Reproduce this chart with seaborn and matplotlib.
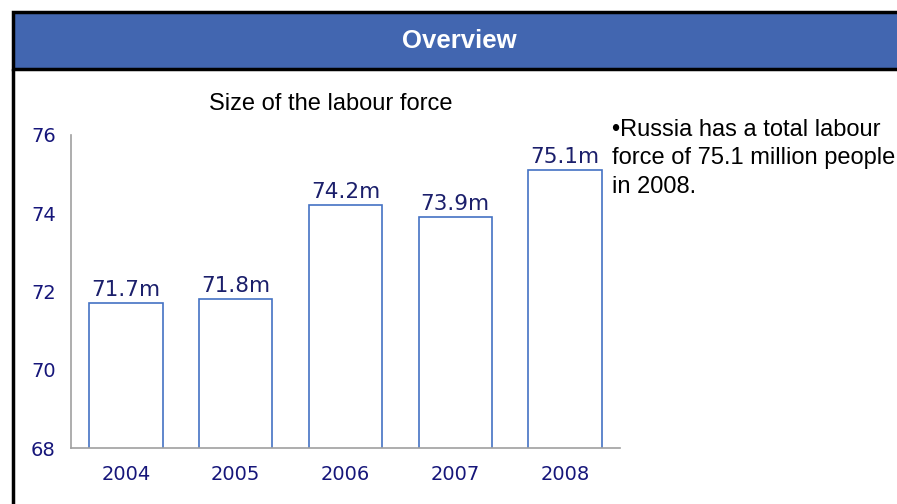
import matplotlib
matplotlib.use("Agg")
import matplotlib.pyplot as plt
from matplotlib.patches import Rectangle
from matplotlib.lines import Line2D
import seaborn as sns
import pandas as pd

years = ["2004", "2005", "2006", "2007", "2008"]
labour_force = [71.7, 71.8, 74.2, 73.9, 75.1]
bar_labels = ["71.7m", "71.8m", "74.2m", "73.9m", "75.1m"]
y_ticks = [68, 70, 72, 74, 76]

df = pd.DataFrame({"year": years, "force": labour_force})

sns.set_style("white")
plt.rcParams["font.family"] = ["DejaVu Sans"]

W, H = 897, 504
fig = plt.figure(figsize=(W / 100, H / 100), dpi=100)

# slide frame + header band
fig.patches.append(Rectangle((13 / W, 1 - 69 / H), 1.0, 57 / H, transform=fig.transFigure,
                             facecolor="#4266B0", edgecolor="black", linewidth=2.5, zorder=0))
fig.lines.append(Line2D([13 / W, 13 / W], [0, 1 - 69 / H], transform=fig.transFigure,
                        color="black", linewidth=2.5))
fig.text(459 / W, 1 - 41 / H, "Overview", color="white", fontsize=18.5, fontweight="bold",
         family="Liberation Sans", ha="center", va="center")

ax = fig.add_axes([71 / W, 56 / H, 549 / W, 313 / H])
sns.barplot(data=df, x="year", y="force", ax=ax, width=0.67, color="white",
            edgecolor="#4472C4", linewidth=1.2)

ax.set_ylim(68, 76)
ax.set_xlim(-0.5, len(years) - 0.5)
ax.set_yticks(y_ticks)
ax.set_xticks([i - 0.5 for i in range(len(years) + 1)])
ax.set_xticklabels([])
ax.set_xticks(range(len(years)), minor=True)
ax.set_xticklabels(years, minor=True)
ax.tick_params(axis="x", which="major", length=6, width=1, color="#a0a0a0", direction="out")
ax.tick_params(axis="x", which="minor", length=0, pad=12, labelsize=14, labelcolor="#16167a")
ax.tick_params(axis="y", length=6, width=1, color="#a0a0a0", direction="out",
               pad=5, labelsize=14, labelcolor="#16167a")
ax.set_xlabel("")
ax.set_ylabel("")
sns.despine(ax=ax)
for s in ["left", "bottom"]:
    ax.spines[s].set_color("#a0a0a0")
    ax.spines[s].set_linewidth(1.2)

ax.bar_label(ax.containers[0], labels=bar_labels, padding=2.5, fontsize=15.5, color="#1b1f6b")

fig.text(331 / W, 1 - 104 / H, "Size of the labour force", fontsize=17,
         family="Liberation Sans", ha="center", va="center", color="black")
fig.text(612 / W, 1 - 119 / H,
         "\u2022Russia has a total labour\nforce of 75.1 million people\nin 2008.",
         fontsize=17, family="Liberation Sans", ha="left", va="top",
         linespacing=1.38, color="black")

fig.savefig("out.png", dpi=100)
